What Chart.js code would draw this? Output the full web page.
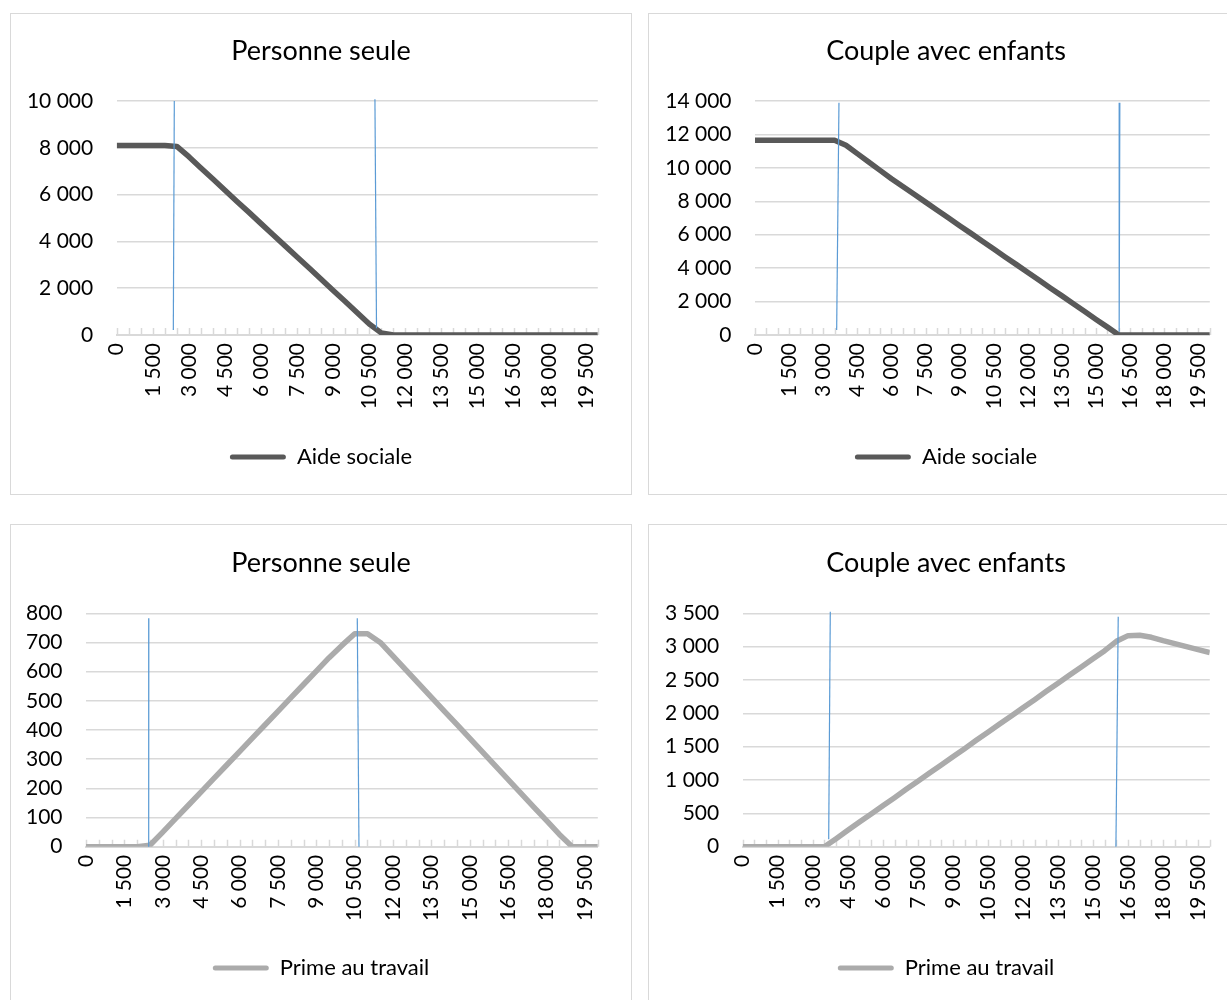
<!DOCTYPE html>
<html lang="fr">
<head>
<meta charset="utf-8">
<title>Aide sociale et prime au travail</title>
<script src="https://cdn.jsdelivr.net/npm/chart.js@4.4.1/dist/chart.umd.min.js"></script>
<style>
  html, body { margin: 0; padding: 0; background: #fff; }
  body { position: relative; width: 1227px; height: 1000px; overflow: hidden; }
  .panel { position: absolute; border: 1px solid #d9d9d9; background: #fff; }
  .panel canvas { display: block; }
</style>
</head>
<body>
<div class="panel" id="p1"><canvas id="c1"></canvas></div>
<div class="panel" id="p2"><canvas id="c2"></canvas></div>
<div class="panel" id="p3"><canvas id="c3"></canvas></div>
<div class="panel" id="p4"><canvas id="c4"></canvas></div>
<script>
// Revenu de travail (axe horizontal), par pas de 500
const revenus = [0, 500, 1000, 1500, 2000, 2500, 3000, 3500, 4000, 4500,
  5000, 5500, 6000, 6500, 7000, 7500, 8000, 8500, 9000, 9500,
  10000, 10500, 11000, 11500, 12000, 12500, 13000, 13500, 14000, 14500,
  15000, 15500, 16000, 16500, 17000, 17500, 18000, 18500, 19000, 19500, 20000];

// Étiquettes affichées sur l'axe horizontal
const etiquettesX = [0, 1500, 3000, 4500, 6000, 7500, 9000, 10500, 12000,
  13500, 15000, 16500, 18000, 19500];

// Aide sociale – personne seule
const aideSeul = [8100, 8100, 8100, 8100, 8100, 8060, 7620, 7140, 6670, 6190,
  5710, 5240, 4760, 4280, 3810, 3330, 2860, 2380, 1900, 1430,
  950, 470, 90, 0, 0, 0, 0, 0, 0, 0,
  0, 0, 0, 0, 0, 0, 0, 0, 0, 0, 0];

// Aide sociale – couple avec enfants
const aideCouple = [11650, 11650, 11650, 11650, 11650, 11650, 11650, 11650, 11350, 10850,
  10350, 9850, 9350, 8880, 8420, 7950, 7480, 7010, 6540, 6080,
  5610, 5140, 4670, 4210, 3740, 3270, 2800, 2340, 1870, 1400,
  930, 470, 0, 0, 0, 0, 0, 0, 0, 0, 0];

// Prime au travail – personne seule
const primeSeul = [0, 0, 0, 0, 0, 5, 50, 96, 142, 188,
  234, 280, 326, 372, 418, 464, 510, 556, 602, 648,
  690, 730, 730, 700, 653, 606, 559, 512, 465, 418,
  371, 324, 277, 230, 183, 136, 89, 42, 0, 0, 0];

// Prime au travail – couple avec enfants
const primeCouple = [0, 0, 0, 0, 0, 0, 0, 0, 120, 245,
  370, 490, 615, 735, 860, 980, 1105, 1225, 1350, 1470,
  1595, 1715, 1840, 1960, 2085, 2205, 2330, 2450, 2575, 2695,
  2820, 2940, 3080, 3165, 3170, 3140, 3090, 3045, 3000, 2955, 2910];

// Seuils de revenu (traits verticaux), extrémités haute et basse
const seuilsAideSeul = [
  [{ x: 2395, y: 10000 }, { x: 2354, y: 214 }],
  [{ x: 10735, y: 10070 }, { x: 10801, y: 286 }]
];
const seuilsAideCouple = [
  [{ x: 3692, y: 13900 }, { x: 3591, y: 300 }],
  [{ x: 16044, y: 13900 }, { x: 16015, y: 200 }]
];
const seuilsPrimeSeul = [
  [{ x: 2455, y: 783 }, { x: 2450, y: 0 }],
  [{ x: 10601, y: 783 }, { x: 10667, y: 0 }]
];
const seuilsPrimeCouple = [
  [{ x: 3750, y: 3524 }, { x: 3682, y: 111 }],
  [{ x: 16079, y: 3449 }, { x: 15980, y: 0 }]
];

const FONT = "Lato, 'Open Sans', sans-serif";
const TITLE_SIZE = 27;
const TICK_SIZE = 21;
const LEGEND_SIZE = 22;

function milliers(v) {
  return String(v).replace(/\B(?=(\d{3})+(?!\d))/g, ' ');
}

// Petites graduations de l'axe horizontal, tournées vers le haut
const graduations = {
  id: 'graduations',
  beforeDatasetsDraw(chart) {
    const sx = chart.scales.x;
    const ctx = chart.ctx;
    const base = chart.chartArea.bottom;
    ctx.save();
    ctx.strokeStyle = '#d9d9d9';
    ctx.lineWidth = 1.5;
    ctx.beginPath();
    sx.ticks.forEach(t => {
      const px = Math.round(sx.getPixelForValue(t.value)) + 0.5;
      ctx.moveTo(px, base);
      ctx.lineTo(px, base - 7);
    });
    ctx.stroke();
    ctx.restore();
  }
};

function panneau(cfg) {
  const box = document.getElementById(cfg.panel);
  box.style.left = cfg.box.left + 'px';
  box.style.top = cfg.box.top + 'px';
  box.style.width = (cfg.box.w - 2) + 'px';
  box.style.height = (cfg.box.h - 2) + 'px';
  const ox = cfg.box.left + 1, oy = cfg.box.top + 1;
  const W = cfg.box.w - 2, H = cfg.box.h - 2;
  const canvas = document.getElementById(cfg.canvas);
  canvas.width = W; canvas.height = H;

  const plotL = cfg.plot.l - ox, plotR = W - (cfg.plot.r - ox);
  const plotT = cfg.plot.t - oy, plotB = cfg.plot.b - oy;
  const titleLH = TITLE_SIZE * 1.2;
  const tTop = (cfg.titleY - oy) - titleLH / 2;
  const tBottom = plotT - tTop - titleLH;
  const legendCenter = cfg.legendY - oy;
  const half = LEGEND_SIZE / 2;
  const padBottom = H - (half + 10) - legendCenter;
  const legendTop = legendCenter - (half + 10);
  const xHeight = legendTop - plotB;

  const datasets = [{
    label: cfg.label,
    data: revenus.map((x, i) => ({ x, y: cfg.values[i] })),
    borderColor: cfg.color,
    backgroundColor: cfg.color,
    borderWidth: 5.5,
    borderJoinStyle: 'round',
    borderCapStyle: 'butt',
    pointRadius: 0,
    tension: 0,
    order: 1
  }];
  cfg.seuils.forEach((pts, k) => {
    datasets.push({
      label: 'seuil' + k,
      data: pts,
      borderColor: '#5b9bd5',
      borderWidth: 1.2,
      pointRadius: 0,
      clip: false,
      order: 0
    });
  });

  new Chart(canvas, {
    type: 'line',
    data: { datasets },
    plugins: [graduations],
    options: {
      responsive: false,
      animation: false,
      devicePixelRatio: 1,
      layout: { padding: { left: 0, right: 0, top: 0, bottom: padBottom } },
      plugins: {
        title: {
          display: true,
          text: cfg.title,
          color: '#000',
          font: { family: FONT, size: TITLE_SIZE, weight: 'normal', lineHeight: 1.2 },
          padding: { top: tTop, bottom: tBottom }
        },
        legend: {
          position: 'bottom',
          labels: {
            color: '#000',
            font: { family: FONT, size: LEGEND_SIZE },
            boxWidth: 56,
            boxHeight: 5,
            useBorderRadius: true,
            borderRadius: 2.5,
            filter: item => item.datasetIndex === 0,
            generateLabels(chart) {
              return Chart.defaults.plugins.legend.labels.generateLabels(chart)
                .map(it => Object.assign(it, { lineWidth: 0 }));
            }
          }
        },
        tooltip: { enabled: false }
      },
      scales: {
        x: {
          type: 'linear',
          min: 0,
          max: 20000,
          grid: { display: false, drawTicks: false },
          border: { display: true, color: '#d9d9d9', width: 2 },
          ticks: {
            stepSize: 500,
            autoSkip: false,
            minRotation: 90,
            maxRotation: 90,
            padding: 8,
            color: '#000',
            font: { family: FONT, size: TICK_SIZE },
            callback: v => etiquettesX.includes(v) ? milliers(v) : ''
          },
          afterFit(s) { s.height = xHeight; }
        },
        y: {
          position: 'left',
          min: 0,
          max: cfg.yMax,
          grid: { color: '#d9d9d9', lineWidth: 1.5, drawTicks: false },
          border: { display: false },
          ticks: {
            stepSize: cfg.yStep,
            padding: 23.5,
            color: '#000',
            font: { family: FONT, size: TICK_SIZE },
            callback: v => milliers(v)
          },
          afterFit(s) { s.width = plotL; }
        },
        marge: {
          position: 'right',
          display: true,
          grid: { display: false, drawTicks: false },
          border: { display: false },
          ticks: { display: false },
          afterFit(s) { s.width = plotR; }
        }
      }
    }
  });
}

panneau({
  panel: 'p1', canvas: 'c1',
  box: { left: 10, top: 13, w: 622, h: 482 },
  plot: { l: 116.7, r: 601, t: 101, b: 335 },
  titleY: 51, legendY: 457,
  title: 'Personne seule', label: 'Aide sociale',
  values: aideSeul, seuils: seuilsAideSeul,
  color: '#595959', yMax: 10000, yStep: 2000
});
panneau({
  panel: 'p2', canvas: 'c2',
  box: { left: 648, top: 13, w: 596, h: 482 },
  plot: { l: 755, r: 1210, t: 101, b: 335 },
  titleY: 51, legendY: 457,
  title: 'Couple avec enfants', label: 'Aide sociale',
  values: aideCouple, seuils: seuilsAideCouple,
  color: '#595959', yMax: 14000, yStep: 2000
});
panneau({
  panel: 'p3', canvas: 'c3',
  box: { left: 10, top: 524, w: 622, h: 482 },
  plot: { l: 86, r: 601.7, t: 613.3, b: 846.7 },
  titleY: 563, legendY: 968,
  title: 'Personne seule', label: 'Prime au travail',
  values: primeSeul, seuils: seuilsPrimeSeul,
  color: '#ababab', yMax: 800, yStep: 100
});
panneau({
  panel: 'p4', canvas: 'c4',
  box: { left: 648, top: 524, w: 596, h: 482 },
  plot: { l: 742.7, r: 1210, t: 613.3, b: 846.7 },
  titleY: 563, legendY: 968,
  title: 'Couple avec enfants', label: 'Prime au travail',
  values: primeCouple, seuils: seuilsPrimeCouple,
  color: '#ababab', yMax: 3500, yStep: 500
});
</script>
</body>
</html>
